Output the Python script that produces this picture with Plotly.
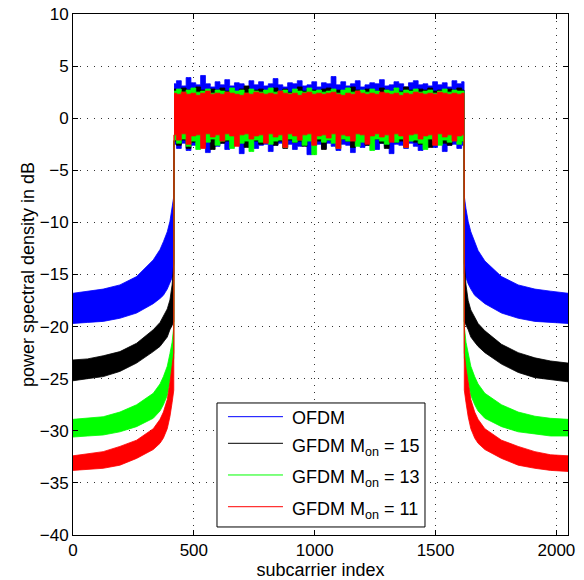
import plotly.graph_objects as go

# ---- data ----
series_names = ["OFDM", "GFDM M<sub>on</sub> = 15", "GFDM M<sub>on</sub> = 13", "GFDM M<sub>on</sub> = 11"]
series_colors = ["#0000FF", "#000000", "#00FF00", "#FF0000"]

# out-of-band, left side (subcarrier index)
oob_left_x = [0, 60, 125, 194, 263, 332, 360, 374, 390, 401, 410, 417]
blue_left_up = [-16.8, -16.6, -16.4, -16.0, -15.2, -13.6, -12.6, -11.85, -10.9, -9.9, -8.7, -7.5]
blue_left_lo = [-19.7, -19.6, -19.5, -19.2, -18.7, -17.8, -17.3, -17.0, -16.4, -15.85, -15.3, -14.9]
black_left_up = [-23.2, -23.1, -22.8, -22.4, -21.6, -20.3, -19.6, -19.05, -18.3, -17.45, -16.0, -13.9]
black_left_lo = [-25.2, -25.0, -24.8, -24.3, -23.5, -22.4, -21.9, -21.5, -21.0, -20.3, -19.9, -19.5]
green_left_up = [-28.9, -28.8, -28.65, -28.2, -27.5, -26.4, -25.5, -24.8, -23.8, -22.6, -21.5, -20.0]
green_left_lo = [-30.6, -30.5, -30.4, -30.1, -29.6, -28.8, -28.1, -27.5, -26.6, -25.4, -24.2, -23.0]
red_left_up = [-32.4, -32.2, -32.0, -31.5, -30.9, -29.8, -28.9, -28.2, -27.0, -25.4, -24.0, -22.5]
red_left_lo = [-33.8, -33.7, -33.6, -33.3, -32.65, -31.8, -31.2, -30.7, -29.8, -28.65, -27.3, -26.1]

# out-of-band, right side
oob_right_x = [1619, 1626, 1635, 1646, 1662, 1676, 1704, 1773, 1842, 1911, 1976, 2048]
blue_right_up = [-7.5, -8.7, -9.9, -10.9, -11.9, -12.7, -13.7, -15.2, -16.0, -16.4, -16.6, -16.8]
blue_right_lo = [-14.9, -15.3, -15.9, -16.4, -17.0, -17.3, -17.8, -18.7, -19.2, -19.5, -19.6, -19.7]
black_right_up = [-13.9, -16.0, -17.5, -18.4, -19.1, -19.7, -20.4, -21.7, -22.5, -23.0, -23.3, -23.5]
black_right_lo = [-19.5, -19.9, -20.3, -21.0, -21.5, -21.9, -22.5, -23.6, -24.4, -24.9, -25.1, -25.3]
green_right_up = [-20.0, -21.5, -22.6, -23.8, -24.8, -25.5, -26.4, -27.5, -28.2, -28.6, -28.8, -28.9]
green_right_lo = [-23.0, -24.2, -25.4, -26.6, -27.5, -28.1, -28.8, -29.6, -30.1, -30.3, -30.5, -30.5]
red_right_up = [-22.5, -24.0, -25.4, -27.0, -28.2, -28.9, -29.8, -30.9, -31.5, -32.0, -32.3, -32.4]
red_right_lo = [-26.1, -27.3, -28.65, -29.8, -30.7, -31.2, -31.8, -32.65, -33.3, -33.6, -33.8, -33.9]

# in-band (allocated subcarriers 418..1618, every 20)
inband_x = [418 + 20 * i for i in range(61)]
blue_in_up = [3.3, 3.6, 3.1, 3.9, 3.4, 3.2, 4.1, 3.3, 3.0, 3.5,
              3.2, 3.7, 3.1, 3.4, 3.3, 3.0, 3.6, 3.2, 3.5, 3.1,
              3.3, 3.8, 3.2, 3.0, 3.4, 3.3, 3.6, 3.1, 3.2, 3.5,
              3.0, 3.4, 3.3, 4.0, 3.2, 3.5, 3.1, 3.3, 3.6, 3.0,
              3.2, 3.4, 3.3, 3.7, 3.1, 3.2, 3.5, 3.3, 3.0, 3.4,
              3.6, 3.2, 3.3, 3.1, 3.5, 3.2, 3.4, 3.0, 3.6, 3.3,
              3.5]
blue_in_lo = [-2.5, -2.9, -2.4, -3.1, -2.6, -2.3, -2.8, -3.3, -2.5, -2.7,
              -2.4, -3.0, -2.6, -2.5, -3.4, -2.7, -2.4, -2.9, -2.6, -2.5,
              -3.2, -2.6, -2.4, -2.8, -2.5, -3.0, -2.7, -2.4, -3.5, -2.6,
              -2.5, -2.9, -2.4, -2.7, -3.1, -2.5, -2.6, -3.3, -2.4, -2.8,
              -2.6, -2.5, -3.0, -2.4, -2.7, -3.4, -2.5, -2.6, -2.9, -2.4,
              -2.7, -3.1, -2.5, -2.6, -2.8, -2.4, -3.2, -2.6, -2.5, -2.9,
              -2.6]
black_in_up = [2.8, 2.6, 2.9, 2.7, 2.5, 3.0, 2.7, 2.6, 2.8, 2.7,
               2.9, 2.6, 2.7, 2.5, 2.8, 3.1, 2.6, 2.7, 2.8, 2.6,
               2.7, 2.9, 2.6, 2.8, 2.5, 2.7, 3.0, 2.6, 2.8, 2.7,
               2.6, 2.8, 2.9, 2.6, 2.7, 2.5, 2.8, 3.0, 2.7, 2.6,
               2.8, 2.7, 2.6, 2.9, 2.7, 2.5, 2.8, 2.6, 3.0, 2.7,
               2.6, 2.8, 2.7, 2.9, 2.6, 2.7, 2.5, 2.8, 2.7, 2.9,
               2.7]
black_in_lo = [-2.2, -2.6, -2.1, -2.9, -2.3, -2.0, -2.5, -2.2, -3.0, -2.1,
               -2.4, -2.2, -2.7, -2.0, -2.3, -2.8, -2.1, -2.2, -2.5, -2.3,
               -2.0, -2.6, -2.2, -2.9, -2.1, -2.3, -2.2, -2.7, -2.0, -2.4,
               -2.2, -3.0, -2.1, -2.3, -2.5, -2.0, -2.2, -2.8, -2.3, -2.1,
               -2.6, -2.2, -2.0, -2.4, -2.9, -2.1, -2.3, -2.2, -2.7, -2.0,
               -2.3, -2.5, -2.1, -2.8, -2.2, -2.0, -2.4, -2.6, -2.1, -2.3,
               -2.2]
green_in_up = [2.6, 2.8, 2.5, 2.7, 2.9, 2.5, 2.6, 2.8, 2.4, 2.7,
               2.6, 2.5, 2.9, 2.6, 2.7, 2.4, 2.8, 2.6, 2.5, 2.7,
               2.9, 2.5, 2.6, 2.7, 2.4, 2.8, 2.6, 2.5, 2.9, 2.6,
               2.7, 2.5, 2.6, 2.8, 2.4, 2.7, 2.9, 2.5, 2.6, 2.7,
               2.5, 2.8, 2.6, 2.4, 2.7, 2.6, 2.9, 2.5, 2.7, 2.6,
               2.8, 2.5, 2.6, 2.7, 2.4, 2.6, 2.8, 2.5, 2.7, 2.6,
               2.6]
green_in_lo = [-2.1, -2.4, -2.0, -2.7, -2.2, -3.0, -2.1, -2.3, -2.0, -2.6,
               -2.2, -2.1, -2.9, -2.0, -2.4, -2.2, -3.2, -2.1, -2.3, -2.0,
               -2.5, -2.2, -2.1, -2.8, -2.0, -2.3, -2.1, -2.6, -2.2, -3.5,
               -2.0, -2.3, -2.1, -2.4, -2.9, -2.0, -2.2, -2.1, -2.7, -2.3,
               -2.1, -3.1, -2.0, -2.2, -2.5, -2.1, -2.3, -2.0, -2.8, -2.2,
               -2.1, -2.4, -3.0, -2.0, -2.2, -2.6, -2.1, -2.3, -2.0, -2.5,
               -2.2]
red_in_up = [2.4, 2.3, 2.5, 2.3, 2.4, 2.2, 2.4, 2.6, 2.3, 2.4,
             2.3, 2.5, 2.4, 2.3, 2.2, 2.4, 2.3, 2.5, 2.4, 2.3,
             2.4, 2.3, 2.6, 2.4, 2.3, 2.4, 2.2, 2.4, 2.5, 2.3,
             2.4, 2.3, 2.4, 2.5, 2.3, 2.2, 2.4, 2.3, 2.6, 2.4,
             2.3, 2.4, 2.3, 2.5, 2.4, 2.3, 2.4, 2.2, 2.4, 2.3,
             2.5, 2.4, 2.3, 2.4, 2.3, 2.5, 2.4, 2.3, 2.4, 2.3,
             2.4]
red_in_lo = [-1.6, -2.1, -1.5, -2.5, -1.7, -1.6, -2.9, -1.5, -1.8, -1.6,
             -2.2, -1.5, -1.7, -2.7, -1.6, -1.5, -2.0, -1.7, -1.6, -2.4,
             -1.5, -1.8, -1.6, -2.8, -1.5, -1.7, -2.1, -1.6, -1.5, -2.6,
             -1.7, -1.6, -1.9, -1.5, -2.9, -1.6, -1.7, -2.2, -1.5, -1.6,
             -2.5, -1.7, -1.5, -1.8, -1.6, -2.3, -1.5, -1.7, -2.8, -1.6,
             -1.5, -2.0, -1.7, -1.6, -2.6, -1.5, -1.8, -1.6, -2.2, -1.7,
             -1.6]

x_ticks = [0, 500, 1000, 1500, 2000]
y_ticks = [-40, -35, -30, -25, -20, -15, -10, -5, 0, 5, 10]

envelopes = [
    (blue_left_up, blue_left_lo, blue_in_up, blue_in_lo, blue_right_up, blue_right_lo),
    (black_left_up, black_left_lo, black_in_up, black_in_lo, black_right_up, black_right_lo),
    (green_left_up, green_left_lo, green_in_up, green_in_lo, green_right_up, green_right_lo),
    (red_left_up, red_left_lo, red_in_up, red_in_lo, red_right_up, red_right_lo),
]

fig = go.Figure()


def band(xs, up, lo, color, shape):
    fig.add_trace(go.Scatter(x=xs + xs[::-1], y=up + lo[::-1], mode="lines", fill="toself",
                             fillcolor=color, line=dict(color=color, width=0.8, shape=shape),
                             showlegend=False, hoverinfo="skip"))


for (lu, ll, iu, il, ru, rl), color in zip(envelopes, series_colors):
    band(oob_left_x + [inband_x[0]], lu + [il[0]], ll + [il[0]], color, "linear")
    band(inband_x, iu, il, color, "hvh")
    band([inband_x[-1]] + oob_right_x, [il[-1]] + ru, [il[-1]] + rl, color, "linear")

axis_common = dict(
    showline=True, linecolor="black", linewidth=1, mirror="allticks",
    ticks="inside", ticklen=5, tickcolor="black",
    showgrid=True, gridcolor="#333333", gridwidth=1, griddash="1px,6px",
    zeroline=False, tickfont=dict(size=17, color="black"), automargin=False,
)

fig.update_xaxes(range=[0, 2048], tickvals=x_ticks,
                 title=dict(text="subcarrier index", font=dict(size=18), standoff=4), **axis_common)
fig.update_yaxes(range=[-40, 10], tickvals=y_ticks,
                 title=dict(text="power spectral density in dB", font=dict(size=18), standoff=0), **axis_common)

# legend box (drawn in paper coordinates)
fig.add_shape(type="rect", xref="paper", yref="paper", x0=0.2909, x1=0.7111, y0=0.0154, y1=0.2534,
              line=dict(color="black", width=1), fillcolor="white", layer="above")
row_y = [0.2271, 0.1760, 0.1152, 0.0543]
for name, color, yy in zip(series_names, series_colors, row_y):
    fig.add_shape(type="line", xref="paper", yref="paper", x0=0.3131, x1=0.4242, y0=yy, y1=yy,
                  line=dict(color=color, width=1), layer="above")
    fig.add_annotation(xref="paper", yref="paper", x=0.4384, y=yy, text=name,
                       showarrow=False, xanchor="left", yanchor="middle",
                       yshift=-4 if "sub" in name else -1,
                       font=dict(size=18, color="black"))

fig.update_layout(
    width=584, height=580,
    margin=dict(l=73, r=16, t=14, b=45),
    paper_bgcolor="white", plot_bgcolor="white",
    font=dict(family="Liberation Sans, Arial, sans-serif", color="black"),
    showlegend=False,
)

fig.write_html("out.html", config={"displayModeBar": False},
               post_script="document.body.style.margin='0';")
